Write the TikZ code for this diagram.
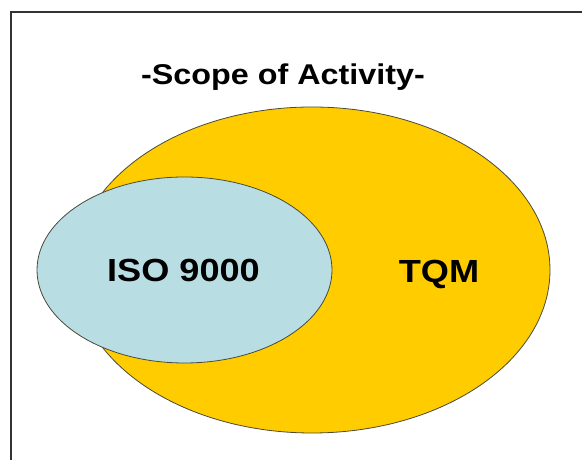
\documentclass[tikz,border=0pt]{standalone}
\usepackage{fontspec}
\setmainfont{Liberation Sans}
\usepackage{graphicx}
\usepackage{xcolor}
\usepackage{tikz}
\usetikzlibrary{positioning,shapes.geometric}

\definecolor{tqmyellow}{HTML}{FFCC00}
\definecolor{isoblue}{HTML}{B8DEE4}
\definecolor{rimgray}{HTML}{4A4A3A}
\newcommand{\widetext}[1]{\scalebox{1.13}[1]{#1}}

\begin{document}
\begin{tikzpicture}[x=1pt,y=1pt,
  blob/.style={ellipse, draw=rimgray, line width=0.8pt, inner sep=0pt, outer sep=0pt},
  label/.style={font=\bfseries\fontsize{32}{38}\selectfont, inner sep=0pt, anchor=base}]
\useasboundingbox (0,0) rectangle (582,460);
\fill[white] (0,0) rectangle (582,460);
\draw[line width=1.4pt, draw=black!80] (11,-10) -- (11,448) -- (600,448);

\node[blob, fill=tqmyellow, minimum width=476pt, minimum height=326pt] (tqm) at (312,190) {};
\node[blob, fill=isoblue, minimum width=295pt, minimum height=186pt] (iso) at (184.5,190) {};

\node[font=\bfseries\fontsize{28.6}{34}\selectfont, inner sep=0pt, anchor=base] (title) at (283,375) {\widetext{-Scope of Activity-}};
\node[label] (isotext) at (183.5,178) {\widetext{ISO 9000}};
\node[label] (tqmtext) at (439,177) {\widetext{TQM}};
\end{tikzpicture}
\end{document}
